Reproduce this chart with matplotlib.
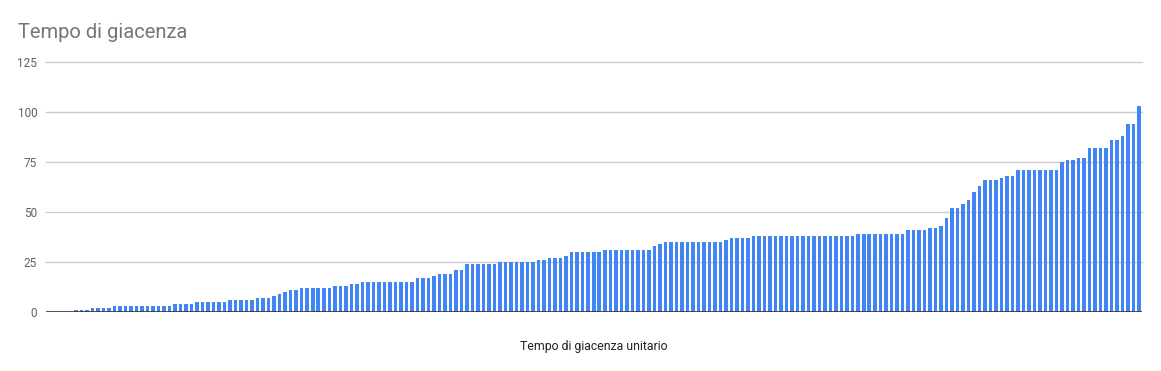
import matplotlib
matplotlib.use("Agg")
import matplotlib.pyplot as plt
import numpy as np

title = "Tempo di giacenza"
x_label = "Tempo di giacenza unitario"
y_ticks = [0, 25, 50, 75, 100, 125]

zeros = [0, 0, 0, 0, 0]
seg1 = [1, 1, 1, 2, 2, 2, 2, 3, 3, 3, 3, 3]
seg2 = [3, 3, 3, 3, 3, 3, 4, 4, 4, 4, 5, 5, 5, 5, 5, 5, 6, 6]
seg3 = [6, 6, 6, 7, 7, 7, 8, 9, 10, 11, 11, 12, 12, 12, 12, 12, 12, 13]
seg4 = [13, 13, 14, 14, 15, 15, 15, 15, 15, 15, 15, 15, 15, 15, 17, 17, 17, 18]
seg5 = [19, 19, 19, 21, 21, 24, 24, 24, 24, 24, 24, 25, 25, 25, 25, 25, 25, 25]
seg6 = [26, 26, 27, 27, 27, 28, 30, 30, 30, 30, 30, 30, 31, 31, 31, 31, 31, 31, 31]
seg7 = [31, 31, 33, 34, 35, 35, 35, 35, 35, 35, 35, 35, 35, 35, 35, 36, 37, 37]
seg8 = [37, 37] + [38] * 16
seg9 = [38, 38, 38, 39, 39, 39, 39, 39, 39, 39, 39, 39, 41, 41, 41, 41, 42, 42]
seg10 = [43, 47, 52, 52, 54, 56, 60, 63, 66, 66, 66, 67, 68, 68, 71, 71, 71, 71]
seg11 = [71, 71, 71, 71, 75, 76, 76, 77, 77, 82, 82, 82, 82, 86, 86, 88, 94, 94, 103]

values = zeros + seg1 + seg2 + seg3 + seg4 + seg5 + seg6 + seg7 + seg8 + seg9 + seg10 + seg11
x = np.arange(len(values))

plt.rcParams['font.family'] = ['Roboto', 'DejaVu Sans']

fig = plt.figure(figsize=(11.61, 3.71), dpi=100)
ax = fig.add_axes([45.5 / 1161, 1 - 312.3 / 371, (1142 - 45.5) / 1161, (312.3 - 62.3) / 371])

ax.bar(x, values, width=0.64, color="#4285F4", zorder=3)
ax.set_xlim(-0.5, len(values) - 0.5)
ax.set_ylim(0, 125)
ax.set_yticks(y_ticks)
ax.set_yticklabels([str(t) for t in y_ticks])
ax.set_xticks([])

for t in y_ticks[1:]:
    ax.axhline(t, color="#cccccc", linewidth=1.0, zorder=1, clip_on=False)
ax.axhline(0, color="#333333", linewidth=1.2, zorder=4)

for s in ax.spines.values():
    s.set_visible(False)
ax.tick_params(axis='y', length=0, pad=6, labelsize=8.5, labelcolor="#616161")

ax.set_xlabel(x_label, fontsize=8.8, color="#222222", labelpad=20)
fig.text(18 / 1161, 1 - 32 / 371, title, fontsize=14.5, color="#757575", va="center", ha="left")

fig.savefig("out.png", dpi=100)
